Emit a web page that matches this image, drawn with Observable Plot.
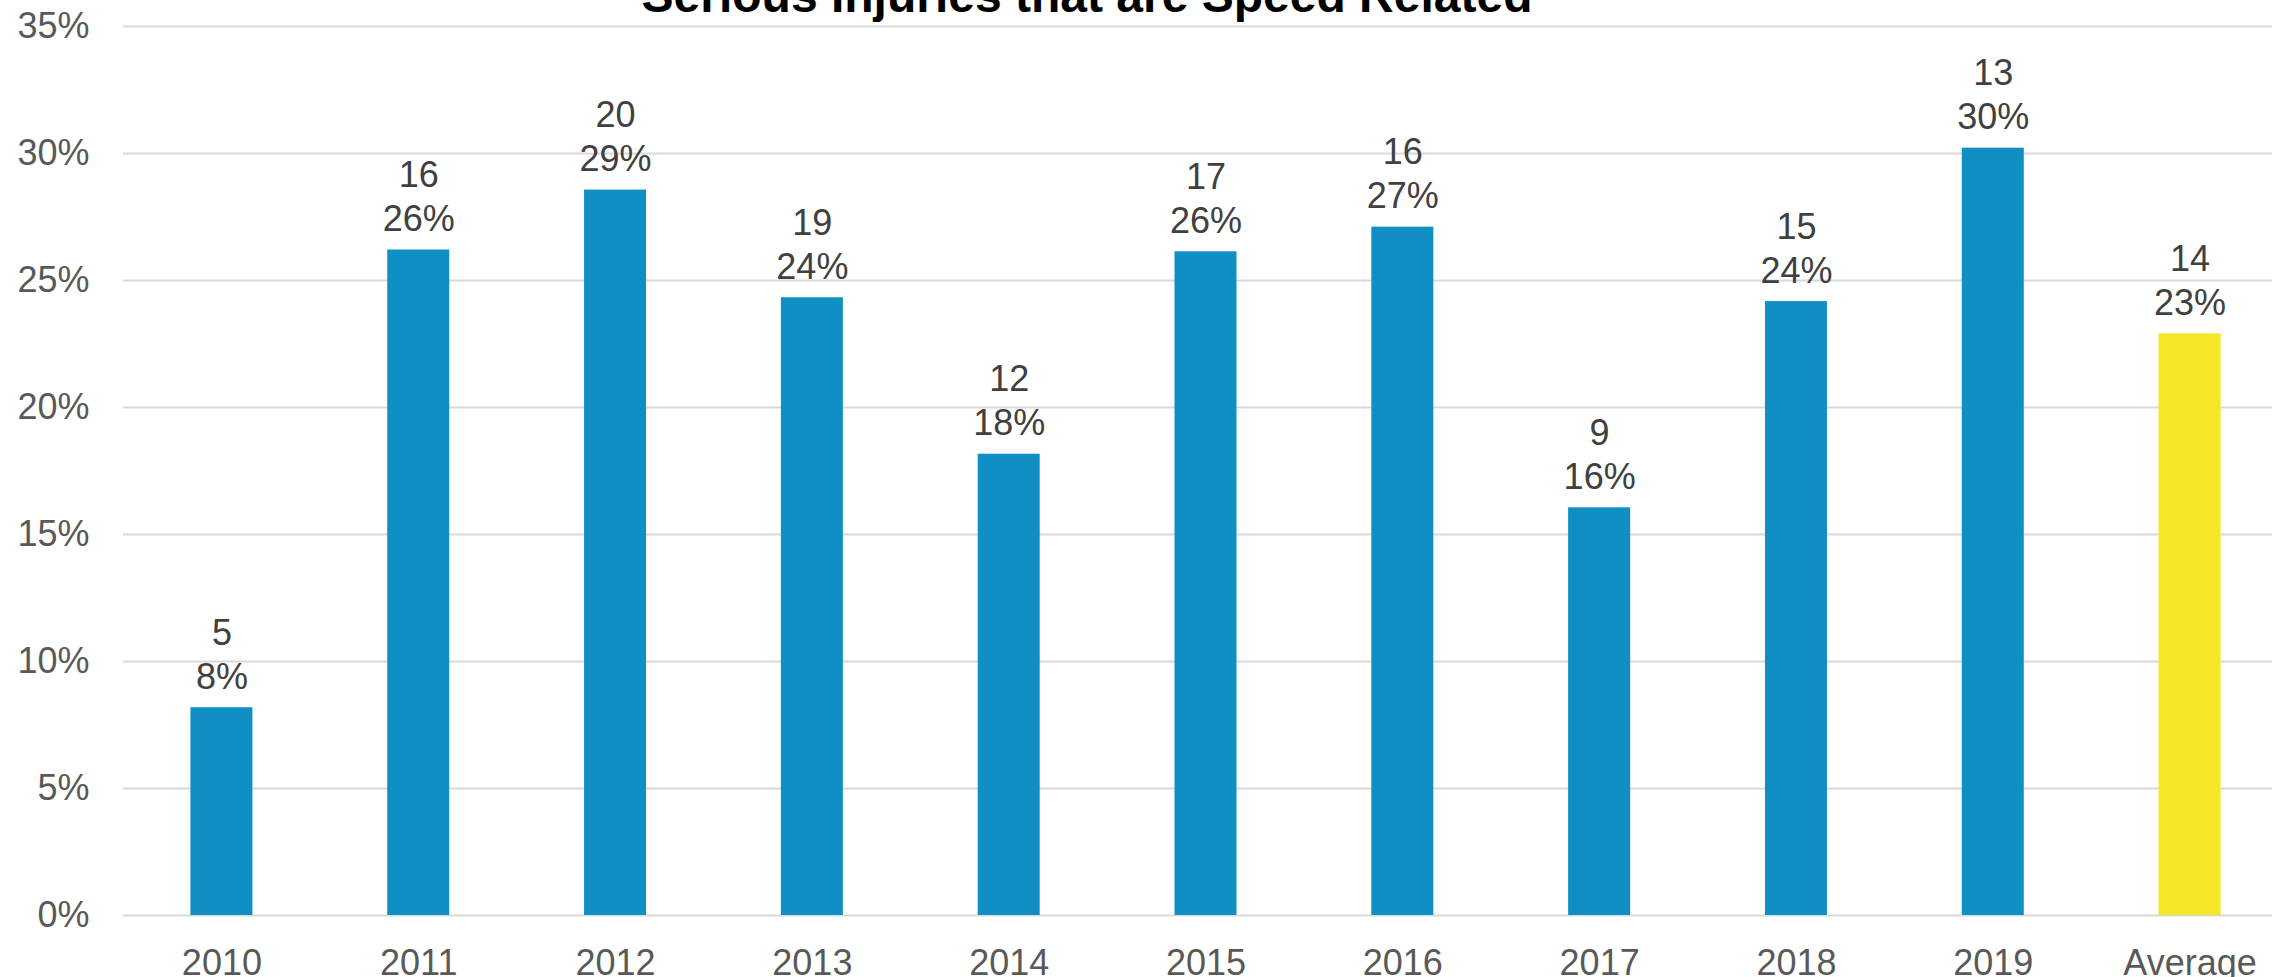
<!DOCTYPE html>
<html>
<head>
<meta charset="utf-8">
<script src="https://cdn.jsdelivr.net/npm/d3@7"></script>
<script src="https://cdn.jsdelivr.net/npm/@observablehq/plot@0.6"></script>
<style>
  html, body { margin: 0; padding: 0; background: #ffffff; overflow: hidden; }
  #wrap { position: relative; width: 2272px; height: 977px; }
  #title {
    position: absolute; left: 1087px; top: -28px; transform: translateX(-50%);
    font-family: "Liberation Sans", Arial, sans-serif; font-weight: bold;
    font-size: 48px; line-height: 48px; color: #000000; white-space: nowrap;
  }
</style>
</head>
<body>
<div id="wrap">
  <div id="title">Serious Injuries that are Speed Related</div>
  <div id="chart"></div>
</div>
<script>
const categories = ["2010", "2011", "2012", "2013", "2014", "2015", "2016", "2017", "2018", "2019", "Average"];
const percentValues = [8.18, 26.2, 28.56, 24.32, 18.16, 26.13, 27.1, 16.05, 24.17, 30.21, 22.9];
const percentLabels = [8, 26, 29, 24, 18, 26, 27, 16, 24, 30, 23];
const counts = [5, 16, 20, 19, 12, 17, 16, 9, 15, 13, 14];
const yTicks = [0, 5, 10, 15, 20, 25, 30, 35];

const data = categories.map((c, i) => ({
  category: c,
  pct: percentValues[i],
  label: `${counts[i]}\n${percentLabels[i]}%`,
  kind: c === "Average" ? "avg" : "year"
}));

const chart = Plot.plot({
  width: 2272,
  height: 977,
  marginLeft: 123,
  marginRight: 0,
  marginTop: 26,
  marginBottom: 62,
  style: { fontFamily: "'Liberation Sans', Arial, sans-serif", background: "#ffffff", overflow: "visible" },
  x: { domain: categories, range: [123, 2288], paddingInner: 0.685, paddingOuter: 0.3425, round: false, label: null },
  y: { domain: [0, 35], label: null },
  color: { domain: ["year", "avg"], range: ["#0f8fc4", "#f5e627"] },
  marks: [
    Plot.ruleY(yTicks, { stroke: "#d9d9d9", strokeWidth: 2 }),
    Plot.barY(data, { x: "category", y: "pct", fill: "kind" }),
    Plot.text(data, {
      x: "category", y: "pct", text: "label",
      lineAnchor: "bottom", lineHeight: 1.222, dy: -19,
      fontSize: 36, fill: "#404040"
    }),
    Plot.axisY({ ticks: yTicks, tickFormat: d => d + "%", tickSize: 0, tickPadding: 34, fontSize: 36, fill: "#595959", label: null }),
    Plot.axisX({ tickSize: 0, tickPadding: 34, fontSize: 36, fill: "#595959", label: null })
  ]
});
document.getElementById("chart").appendChild(chart);
</script>
</body>
</html>
